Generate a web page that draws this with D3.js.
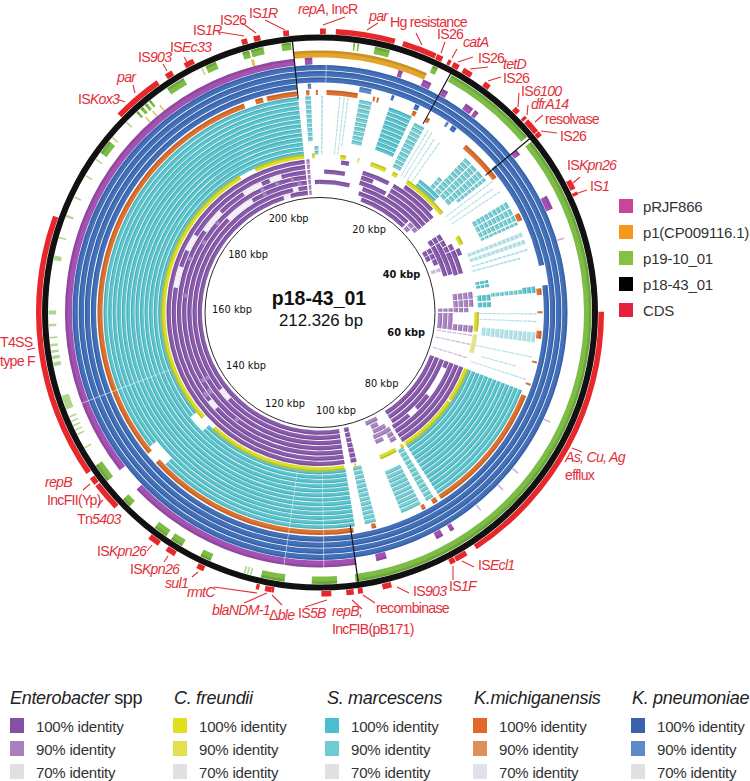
<!DOCTYPE html>
<html lang="en">

<head>
  <meta charset="UTF-8">
  <title>p18-43_01</title>
  <script src="https://d3js.org/d3.v7.min.js"></script>
  <style>
    html, body { margin: 0; background: #fff; }
    text { font-family: "Liberation Sans", Arial, sans-serif; }
    .note { fill: #e2303a; font-size: 14.2px; letter-spacing: -0.75px; }
    .lead { stroke: #e2303a; stroke-width: 1.1; }
    .kbp { font-family: "DejaVu Sans", sans-serif; font-size: 9.8px; fill: #111; text-anchor: middle; }
    .legend { fill: #333; font-size: 15px; letter-spacing: -0.2px; }
    .head { fill: #222; font-size: 18px; letter-spacing: -0.3px; }
  </style>
</head>

<body>
  <svg id="chart" width="750" height="781"></svg>

  <script>
    const plasmidKbp = 212.326;
    const tickKbp = [20, 40, 60, 80, 100, 120, 140, 160, 180, 200];
    const boldTicks = [40, 60];

    const cdsRanges = [[207.9,208.6],[0,0.7],[1.9,9.1],[10.1,14.3],[14.4,15.2],[15.9,16.3],[16.6,17.4],[18,19.2],[21,21.8],
      [25.7,26.4],[27.2,27.6],[27.8,29.6],[29.7,30.3],[36.6,37.8],[38.2,38.6],[53,86.4],[87.7,89.2],[89.3,90],[97.5,98.6],
      [101,101.6],[102.1,103],[104.8,106],[111.7,112],[112,112.8],[113.5,113.9],[120.5,121.4],[124.4,125.6],[126.7,128.1],
      [133.5,137],[137.2,138.1],[138.8,171],[185.5,191.6],[192.8,193.7],[195.4,196.6],[202.8,203.5],[204.3,205.1]];

    const p19Ranges = [[17.1,29.3],[30.1,101.7],[6.9,8.8],[4.2,4.4],[4.7,4.9],[14.5,15.2],[207.5,208.7],[203.6,205.2],[202.5,203.4],
      [197.6,199],[192.1,194.5],[187.2,187.5],[187.9,188.3],[188.6,189],[189.3,189.6],[180.5,182.3],[136.6,139],[132.4,133.6],
      [126.5,128.3],[124.2,125.8],[120.2,121.6],[110.6,113.6],[104,107.2]];
    const p19Thin = [[114.8,115],[115.2,115.4],[115.6,115.8],[100.9,101.1],[146.9,148.7],[145.8,146],[145.2,145.4],[144.6,144.8],
      [144,144.2],[143.4,143.6],[141.5,141.7],[152.5,153],[153.4,153.8],[154.2,154.5],[155,155.3],[156,156.2],[157.5,157.8],
      [159,159.5],[165.8,166.4],[168.6,168.8],[171.4,171.7],[174,174.2],[177,177.2],[179.4,179.6],[182.8,183],[185.4,185.6],[197,197.2]];

    const p1Ranges = [[208.9,212.326],[0,14.2]];
    const p1Thin = [[203.3,203.7],[187.6,187.8],[188.8,189],[190,190.2]];

    const pRJFRanges = [[101.3,133.3],[136.7,208.9],[210.3,211.3],[10.6,11.2],[14.1,15.3],[17,17.8],[20.6,21.8],[22.1,22.7],
      [29.7,30.5],[37,38.9],[89.1,90.1],[87.4,88],[97.2,98.6]];
    const pRJFThin = [[43,43.2],[68,68.2],[76,76.2],[79,79.2],[83,83.2],[108,108.2],[116,116.2]];

    const blueBlocks = [[0,212.326,0,2,1],[29.5,46,3,3,1],[49,208.9,3,3,1],[5.9,7.7,3,3,.9],[10.8,11.2,3,3,1],[14.5,15.2,3,3,1],
      [20.8,21.6,3,3,1],[19.8,20.2,3,3,.9],[210.5,211,3,3,.9]];

    const orangeRanges = [[66.1,86.7],[101,134.2],[136,200.5],[202.3,203.5],[204.1,208.8],[210.2,210.7],[211.7,212],[1,5.8],
      [8.2,8.5],[8.8,9.1],[14.6,15.2],[17,17.5],[24.2,31],[37.4,38.6],[49.4,50.4],[52.9,53.2],[55.9,57.1],[60.6,60.9],[64.1,64.4],
      [87.3,88.1],[89.4,90],[97.5,98.2]];

    const tealBlocks = [[65.5,86.7,0,12,1],[100.7,133,0,1,1],[136.7,208.9,0,1,1],[100.7,208.9,2,10,1],[100.7,132.5,11,12,1],
      [136.3,208.9,11,12,1],[87.5,88.8,0,12,.9],[89.8,93.1,0,9,.9],[97.3,99.1,0,12,.9],[210,210.9,0,9,.9],[211.2,212,11,12,.9],
      [0.2,0.5,0,12,.7],[3,3.2,0,12,.7],[3.7,3.9,0,12,.7],[4.3,4.5,0,10,.7],[6.2,8.2,0,9,.9],[11,14.8,0,9,1],[15.6,17.4,1,11,.9],
      [18,18.2,1,12,.7],[18.7,18.9,1,12,.7],[19.6,19.8,2,12,.7],[20.6,20.8,2,12,.7],[21.8,27,11,12,1],[24.3,25.2,8,10,.9],
      [25.5,26.8,1,10,.9],[27,28.2,1,10,.9],[28.4,29.6,1,10,.9],[29.8,30.4,1,8,.9],[31,31.2,0,12,.7],[32,32.2,1,12,.7],[33,33.2,0,12,.7],
      [35,36,0,8,.9],[36.2,37.2,0,8,.9],[37.4,38.3,0,8,.9],[38.5,39,0,8,.9],[40.3,41,0,12,.7],[41.5,42.2,0,12,.7],[43,43.3,0,12,.7],
      [44,44.3,2,12,.7],[46.6,47.2,10,12,1],[47.4,48,10,12,1],[49.5,50.7,10,12,1],[51,52,10,12,1],[49.3,50,3,9,.9],[49,50,0,2,1],
      [53.2,53.4,0,12,.7],[54.4,54.6,0,12,.7],[56.2,57.8,0,11,.7],[60,60.2,0,12,.7],[62,62.2,3,10,.7],[63.6,63.8,0,12,.7]];

    const yellowRanges = [[65.5,73.1],[73.4,86.7],[87.3,87.9],[89.1,92.9],[98.3,98.7],[100.9,131.3],[134.5,194.3],[197.9,208.9],
      [53,57.2],[210.6,211.2],[4.4,5.6],[8.2,8.5],[11.1,14.6],[16.2,17.4],[19.8,30.1],[36,38]];
    const yellowPale = [[57.8,61.9],[49.5,49.7]];

    const purpleBlocks = [[65.5,87,0,2,1],[65.5,67.2,3,3,1],[75.2,79.5,3,3,1],[82,87,3,3,1],[65.5,86.5,4,6,1],[89.5,93,6,6,.9],
      [90,92,4,5,.9],[87.8,89.3,1,3,.9],[88.5,90.5,3,4,.9],[90.5,92.5,2,3,.9],[98,99.3,0,6,1],[100.7,208.9,0,6,1],
      [209.3,210,0,6,.9],[4.7,6.5,0,0,1],[1,6,2,2,1],[211,212.3,4,4,1],[0,7.7,4,4,1],[10,16.5,1,1,1],[10,13,2,2,1],[10,17,3,3,1],
      [11.2,18.3,4,4,1],[10.6,26,5,5,1],[11.8,26,6,6,1],[17.7,29.5,1,4,1],[20,28,0,0,1],[26.5,28,5,6,.9],[28.2,29.5,5,5,.9],
      [33.5,35,2,4,1],[35.2,36.6,2,6,1],[36.8,38.2,1,6,1],[38.4,40,0,5,1],[36.2,43.5,3,4,1],[38.5,44,1,2,1],[41,42,5,6,.7],
      [48.5,50,0,3,.9],[50.2,51.8,0,3,.9],[52,53,1,3,.9],[52,52.9,4,6,.9],[53.2,57.5,4,6,.9],[56,57.5,0,3,.9],[58,58.3,0,6,.7],
      [60,60.3,0,6,.7],[63,63.3,0,6,.7],
      [197,198,3,4,.9],[201,202,3,3,.9],[205,205.8,3,3,.9],[183,184,3,3,.9],[177,178.2,3,3,.9],[172,173,2,2,.9],[163,164,3,3,.9],
      [141,142,3,4,.9],[137.5,139,2,3,.9],[128,129,3,3,.9],[206.5,207.5,4,4,.9]];
    const purpleGaps = [[180,186,2],[193,198,2],[200,203,2],[165,170,1],[174,178,1],[186,194,4],[202,204,6],[205,206.5,5],[134,136.5,2],[133.5,137,5]];

    const sectorKbp = [208.9, 16.9, 29.7, 101.4];
    const seamKbp = [146.9, 110.9, 105.6, 0.8];

    const sideNames = ["pRJF866", "p1(CP009116.1)", "p19-10_01", "p18-43_01", "CDS"];
    const sideColors = ["#c9459c", "#f7981d", "#84c341", "#000", "#e81f3f"];
    const identityLabels = ["100% identity", "90% identity", "70% identity"];
    const speciesNames = [["", "Enterobacter", " spp"], ["", "C. freundii"], ["", "S. marcescens"], ["", "K.michiganensis"], ["", "K. pneumoniae"]];
    const speciesSwatches = [["#8550a3", "#a97fbd", "#e0e0e0"], ["#e2e01e", "#e2e04e", "#e0e0e0"], ["#4cbfce", "#6fcbd3", "#e0e0e0"],
      ["#e2682a", "#e09055", "#dfe2e8"], ["#3c62ae", "#5c8bc8", "#e0e0e0"]];

    // gene labels: text (| toggles italic), x, baseline, leader line
    const notes = [
      ["IS|1R",249,18,[265,20,285,30]],["IS26",220,25,[242,23,256,33]],["IS|1R",193,35,[219,32,244,36]],["IS|Ec33",170,52,[184,57,187,62]],
      ["IS|903",138,62,[163,64,167,71]],["|par",117,82,[133,85,135,93]],["IS|Kox3",78,104,[117,99,125,102]],
      ["|repA|, IncR",298,14,[323,25,345,17]],["|par",369,21,[367,30,378,23]],["Hg resistance",390,27,[422,45,416,33]],
      ["IS26",437,39,[441,53,445,42]],["|catA",463,47,[452,58,457,49]],["IS26",478,63,[458,62,473,57]],["|tetD",503,69,[470,69,488,67]],
      ["IS26",503,83,[488,81,501,77]],["IS|6100",521,96,[518,107,519,93]],["|dfrA14",531,109,[527,115,528,105]],
      ["resolvase",545,124,[535,122,543,115]],["IS26",560,141,[541,131,557,133]],["IS|Kpn26",567,170,[573,183,580,177]],
      ["IS|1",590,191,[578,193,587,190]],["T4SS",0,347,null],["type F",0,366,[27,350,35,348]],
      ["|As, Cu, Ag",565,462,[572,448,582,452]],["efflux",565,480,null],["IS|Ecl1",478,570,[462,561,474,567]],["IS|1F",449,591,[453,566,453,580]],
      ["IS|903",413,596,[397,587,409,593]],["recombinase",376,613,[363,595,375,603]],["|repB,",332,616,[352,600,362,609]],
      ["IncFIB(pB171)",332,634,null],["IS|5B",298,618,[305,607,327,600]],["Δ|ble",269,620,[272,595,282,605]],["|blaNDM-1",212,615,[244,603,267,593]],
      ["|rmtC",187,597,[214,587,257,593]],["|sul1",165,588,[192,577,198,572]],["IS|Kpn26",130,574,[164,562,168,556]],
      ["IS|Kpn26",97,556,[147,551,152,545]],["Tn|5403",77,524,null],["IncFII(Yp)",47,505,[98,505,103,500]],["|repB",45,487,[83,490,90,484]]
    ];

    const cx = 320, cy = 312.5;
    const svg = d3.select("#chart");
    const g = svg.append("g").attr("transform", `translate(${cx},${cy})`);

    const angle = d3.scaleLinear().domain([0, plasmidKbp]).range([0, 2 * Math.PI]);
    const arc = d3.arc();

    function band(start, end, r0, r1, fill, opacity) {
      g.append("path")
        .attr("d", arc({ innerRadius: r0, outerRadius: r1, startAngle: angle(start), endAngle: angle(end) }))
        .attr("fill", fill)
        .attr("opacity", opacity == null ? 1 : opacity);
    }

    // ring with the darker outer edge BRIG leaves on its tracks
    function ring(start, end, r0, r1, fill, opacity) {
      band(start, end, r0, r1, fill, opacity);
      band(start, end, r1 - (r1 - r0) * 0.35, r1, "#000", 0.12 * (opacity == null ? 1 : opacity));
    }

    const levelColor = (pal, level) => level === 1 ? pal[0] : pal[1];
    const levelOpacity = level => level === 0.7 ? 0.55 : 1;

    function blockRings(blocks, pal, outer, pitch, width) {
      blocks.forEach(b => {
        for (let i = b[2]; i <= b[3]; i++) {
          const r1 = outer - i * pitch;
          const o = levelOpacity(b[4]);
          ring(b[0], b[1], r1 - width, r1, levelColor(pal, b[4]), o);
        }
      });
    }

    // outer tracks
    cdsRanges.forEach(d => band(d[0], d[1], 278.5, 284, "#e8272c"));
    band(0, plasmidKbp, 272, 278, "#111");
    p19Ranges.forEach(d => ring(d[0], d[1], 264, 271.5, "#7cbd45"));
    p19Thin.forEach(d => band(d[0], d[1], 264, 271.5, "#7cbd45", 0.6));
    p1Ranges.forEach(d => ring(d[0], d[1], 255, 262, "#e3a52c"));
    p1Thin.forEach(d => band(d[0], d[1], 255, 262, "#e3a52c", 0.7));
    pRJFRanges.forEach(d => ring(d[0], d[1], 248, 255, "#a352b4"));
    pRJFThin.forEach(d => band(d[0], d[1], 248, 255, "#a352b4", 0.5));

    blockRings(blueBlocks, ["#4270bb", "#5c8bc8"], 247.5, 6.1, 5.3);
    orangeRanges.forEach(d => ring(d[0], d[1], 217.5, 222.5, "#dc7130"));
    blockRings(tealBlocks, ["#5cc6d0", "#78d0d7"], 216.5, 4.55, 3.8);

    yellowRanges.forEach(d => ring(d[0], d[1], 154.5, 159, "#d9dc2a"));
    yellowPale.forEach(d => band(d[0], d[1], 154.5, 159, "#e2e48a"));

    blockRings(purpleBlocks, ["#8a5cae", "#ab87c5"], 153.5, 5.2, 4.3);
    purpleGaps.forEach(d => {
      const r1 = 153.5 - d[2] * 5.2;
      band(d[0], d[1], r1 - 4.5, r1 + 0.2, "#fff", 0.9);
    });

    // pale radial seams and the black sector marks
    seamKbp.forEach(k => band(k, k + 0.1, 160, 256, "#fff", 0.7));
    sectorKbp.forEach(k => band(k - 0.08, k + 0.08, 215, 273, "#111"));

    g.append("circle").attr("r", 115).attr("fill", "#fff").attr("stroke", "#111").attr("stroke-width", 0.9);

    tickKbp.forEach(k => {
      const a = angle(k);
      g.append("text")
        .attr("class", "kbp")
        .attr("x", 88 * Math.sin(a))
        .attr("y", -100 * Math.cos(a) + 3)
        .style("font-weight", boldTicks.includes(k) ? "bold" : null)
        .text(k + " kbp");
    });

    g.append("text").attr("x", -1).attr("y", -7.5).attr("text-anchor", "middle")
      .style("font-size", "19.5px").style("font-weight", "bold").attr("fill", "#111").text("p18-43_01");
    g.append("text").attr("x", 1).attr("y", 13).attr("text-anchor", "middle")
      .style("font-size", "16.8px").attr("fill", "#111").text("212.326 bp");

    // red gene labels
    function mixed(sel, str) {
      str.split("|").forEach((part, i) => {
        if (part) sel.append("tspan").style("font-style", i % 2 ? "italic" : "normal").text(part);
      });
    }
    notes.forEach(n => {
      mixed(svg.append("text").attr("class", "note").attr("x", n[1]).attr("y", n[2]), n[0]);
      if (n[3]) svg.append("line").attr("class", "lead")
        .attr("x1", n[3][0]).attr("y1", n[3][1]).attr("x2", n[3][2]).attr("y2", n[3][3]);
    });

    // side legend
    const sideY = d3.scalePoint().domain(sideNames).range([199, 303]);
    sideNames.forEach((name, i) => {
      svg.append("rect").attr("x", 619).attr("y", sideY(name)).attr("width", 14).attr("height", 14).attr("fill", sideColors[i]);
      svg.append("text").attr("class", "legend").attr("x", 643).attr("y", sideY(name) + 13).text(name);
    });

    // species legend
    const colX = [10, 173, 325, 473, 631];
    const headX = [10, 174, 327, 474, 632];
    const rowY = d3.scalePoint().domain(identityLabels).range([718, 764]);
    speciesNames.forEach((name, s) => {
      const head = svg.append("text").attr("class", "head").attr("x", headX[s]).attr("y", 704);
      name.slice(1).forEach((part, i) => head.append("tspan").style("font-style", i === 0 ? "italic" : "normal").text(part));
      identityLabels.forEach((label, r) => {
        svg.append("rect").attr("x", colX[s]).attr("y", rowY(label)).attr("width", 14).attr("height", 15).attr("fill", speciesSwatches[s][r]);
        svg.append("text").attr("class", "legend").attr("x", colX[s] + 26).attr("y", rowY(label) + 14).text(label);
      });
    });
  </script>
</body>

</html>
